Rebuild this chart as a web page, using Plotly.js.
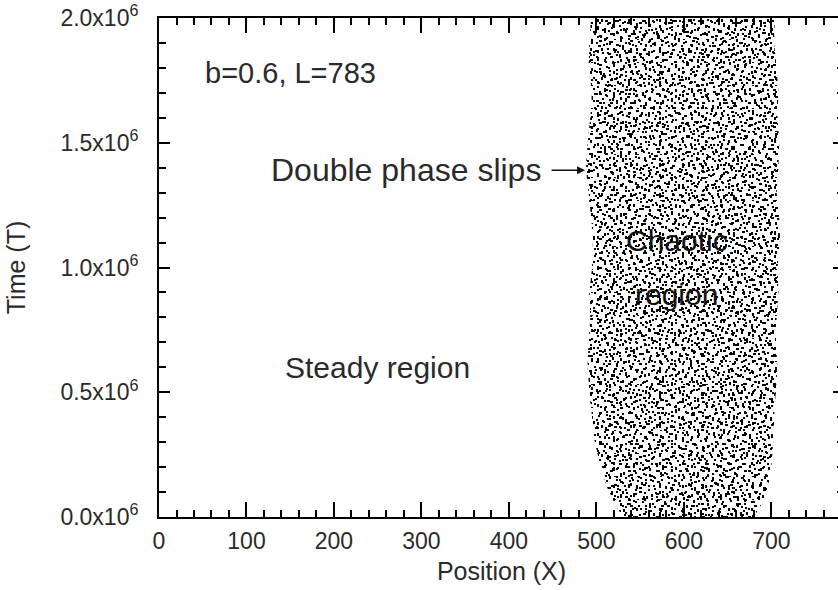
<!DOCTYPE html>
<html>
<head>
<meta charset="utf-8">
<script src="https://cdn.plot.ly/plotly-3.0.1.min.js"></script>
<style>
html, body { margin:0; padding:0; overflow:hidden; background:#fff; }
#chart { width:846px; height:590px; }
</style>
</head>
<body>
<div id="chart"></div>
<script>
// Time samples (T) along the boundary of the chaotic (phase-slip) region
const edgeT = [2.0e6, 1.9e6, 1.8e6, 1.7e6, 1.6e6, 1.5e6, 1.4e6, 1.3e6, 1.2e6, 1.1e6, 1.0e6,
               0.9e6, 0.8e6, 0.7e6, 0.6e6, 0.5e6, 0.4e6, 0.3e6, 0.2e6, 0.12e6, 0.06e6, 0.0];
// Left boundary position (X) of the chaotic region at each time
const leftX  = [494, 492, 491, 495, 493, 490, 488, 491, 494, 496, 495,
                492, 493, 491, 490, 492, 495, 498, 505, 512, 520, 530];
// Right boundary position (X) of the chaotic region at each time
const rightX = [704, 703, 706, 708, 707, 709, 708, 706, 709, 710, 707,
                708, 706, 705, 707, 705, 703, 702, 700, 696, 690, 680];

const xTickVals = [0, 100, 200, 300, 400, 500, 600, 700];
const xTickText = ['0', '100', '200', '300', '400', '500', '600', '700'];
const yTickVals = [0, 0.5e6, 1.0e6, 1.5e6, 2.0e6];
const yTickText = ['0.0x10<sup>6</sup>', '0.5x10<sup>6</sup>', '1.0x10<sup>6</sup>',
                   '1.5x10<sup>6</sup>', '2.0x10<sup>6</sup>'];

const FONT = 'Liberation Sans, Arial, Helvetica, sans-serif';

// polygon of the chaotic region
const polyX = leftX.concat(rightX.slice().reverse());
const polyY = edgeT.concat(edgeT.slice().reverse());

// texture tiles (style only): small speckles placed irregularly inside each tile
function tilePath(rects) {
  return rects.map(r => 'M' + r[0] + ',' + r[1] + 'h' + r[2] + 'v' + r[3] + 'h-' + r[2] + 'Z').join('');
}
const tileA = [[1,3,2,2],[7,1,2,3],[13,5,2,2],[20,2,3,2],[25,7,2,2],[3,10,2,2],[10,12,2,3],
               [17,9,2,2],[23,14,2,2],[5,17,3,2],[12,19,2,2],[19,16,2,2],[26,21,2,3],[2,24,2,2],
               [9,26,2,2],[15,23,2,2],[22,26,2,2]];
const tileB = [[2,2,2,2],[9,6,2,3],[16,1,2,2],[24,4,3,2],[31,8,2,2],[5,12,2,2],[13,14,2,2],
               [20,10,2,3],[28,15,2,2],[34,18,2,2],[1,20,2,3],[8,23,2,2],[17,19,3,2],[25,24,2,2],
               [32,27,2,2],[4,30,2,2],[11,33,2,2],[19,29,2,3],[27,33,2,2],[14,26,2,2],[22,34,3,2],
               [30,1,2,2],[6,35,2,2]];
const tileC = [[3,4,2,2],[10,2,2,2],[17,7,2,3],[6,11,2,2],[14,15,3,2],[20,13,2,2],[1,18,2,2],
               [9,20,2,2],[18,21,2,1]];
const tileD = [[4,1,2,3],[15,4,3,2],[24,2,2,2],[1,13,2,2],[11,10,2,2],[20,15,2,3],[27,11,2,2],
               [6,22,3,2],[16,25,2,2],[26,27,2,2]];
const dotLayers = [
  {size: 29, path: tilePath(tileA)},
  {size: 37, path: tilePath(tileB)},
  {size: 23, path: tilePath(tileC)},
  {size: 31, path: tilePath(tileD)}
];
const traces = dotLayers.map(d => ({
  type: 'scatter', mode: 'lines', x: polyX, y: polyY,
  fill: 'toself', fillcolor: 'rgba(0,0,0,0)',
  fillpattern: {path: d.path, size: d.size, fgcolor: '#000', fgopacity: 1, fillmode: 'replace'},
  line: {width: 0, color: 'rgba(0,0,0,0)'},
  hoverinfo: 'skip', showlegend: false
}));

const axisCommon = {
  showline: true, linecolor: '#000', linewidth: 2, mirror: 'ticks',
  ticks: 'inside', tickcolor: '#000', tickwidth: 2,
  showgrid: false, zeroline: false,
  tickfont: {family: FONT, size: 23, color: '#2a2a2a'}
};

const layout = {
  width: 846, height: 590,
  margin: {l: 159, r: 2, t: 18, b: 73},
  paper_bgcolor: '#fff', plot_bgcolor: '#fff',
  font: {family: FONT, color: '#2a2a2a'},
  showlegend: false,
  xaxis: Object.assign({}, axisCommon, {
    range: [0, 783], tickmode: 'array', tickvals: xTickVals, ticktext: xTickText,
    ticklen: 15, ticklabelstandoff: 2,
    minor: {dtick: 20, tick0: 0, ticks: 'inside', ticklen: 7, tickwidth: 2, tickcolor: '#000'},
    title: {text: 'Position (X)', font: {family: FONT, size: 25, color: '#2a2a2a'}, standoff: 10}
  }),
  yaxis: Object.assign({}, axisCommon, {
    range: [0, 2.0e6], tickmode: 'array', tickvals: yTickVals, ticktext: yTickText,
    ticklen: 11, ticklabelstandoff: 14,
    minor: {dtick: 1e5, tick0: 0, ticks: 'inside', ticklen: 7, tickwidth: 2, tickcolor: '#000'},
    title: {text: 'Time (T)', font: {family: FONT, size: 25, color: '#2a2a2a'}, standoff: 28}
  }),
  annotations: [
    {x: 50, y: 1.78e6, xref: 'x', yref: 'y', text: 'b=0.6, L=783', showarrow: false,
     xanchor: 'left', yanchor: 'middle', font: {family: FONT, size: 29, color: '#2a2a2a'}},
    {x: 439, y: 1.39e6, xref: 'x', yref: 'y', text: 'Double phase slips', showarrow: false,
     xanchor: 'right', yanchor: 'middle', font: {family: FONT, size: 32, color: '#2a2a2a'}},
    {x: 487, y: 1.39e6, ax: 447, ay: 1.39e6, xref: 'x', yref: 'y', axref: 'x', ayref: 'y',
     text: '', showarrow: true, arrowhead: 2, arrowsize: 1, arrowwidth: 1.6, arrowcolor: '#111'},
    {x: 142, y: 0.6e6, xref: 'x', yref: 'y', text: 'Steady region', showarrow: false,
     xanchor: 'left', yanchor: 'middle', font: {family: FONT, size: 30, color: '#2a2a2a'}},
    {x: 592, y: 1.11e6, xref: 'x', yref: 'y', text: 'Chaotic', showarrow: false,
     xanchor: 'center', yanchor: 'middle', font: {family: FONT, size: 30, color: '#111'}},
    {x: 592, y: 0.89e6, xref: 'x', yref: 'y', text: 'region', showarrow: false,
     xanchor: 'center', yanchor: 'middle', font: {family: FONT, size: 30, color: '#111'}}
  ]
};

Plotly.newPlot('chart', traces, layout, {displayModeBar: false, staticPlot: true});
</script>
</body>
</html>
